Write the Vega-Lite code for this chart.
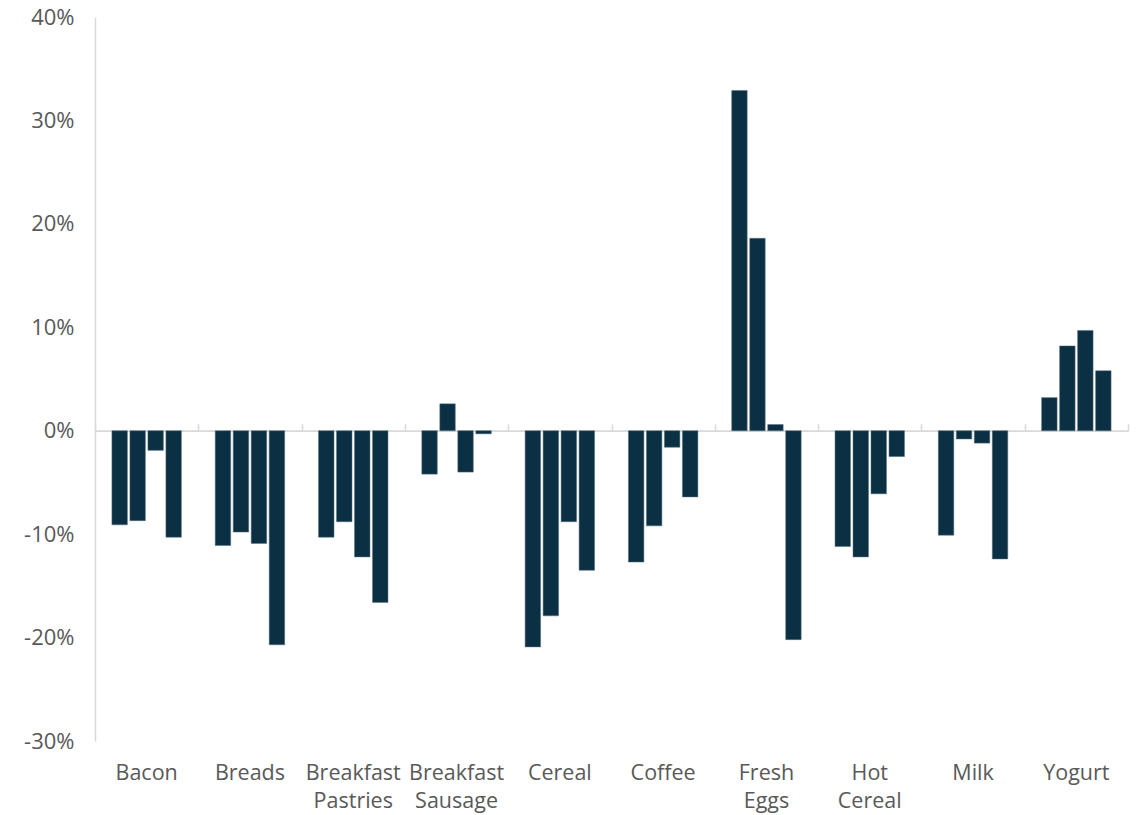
{
  "$schema": "https://vega.github.io/schema/vega-lite/v6.json",
  "autosize": "none",
  "width": 1033,
  "height": 724,
  "padding": {"left": 95, "top": 17, "right": 11, "bottom": 74},
  "background": "#ffffff",
  "config": {
    "view": {"stroke": null},
    "font": "Open Sans"
  },
  "data": {
    "values": [
      {"category": "Bacon", "period": 1, "change": -0.091},
      {"category": "Bacon", "period": 2, "change": -0.087},
      {"category": "Bacon", "period": 3, "change": -0.019},
      {"category": "Bacon", "period": 4, "change": -0.103},
      {"category": "Breads", "period": 1, "change": -0.111},
      {"category": "Breads", "period": 2, "change": -0.098},
      {"category": "Breads", "period": 3, "change": -0.109},
      {"category": "Breads", "period": 4, "change": -0.207},
      {"category": "Breakfast Pastries", "period": 1, "change": -0.103},
      {"category": "Breakfast Pastries", "period": 2, "change": -0.088},
      {"category": "Breakfast Pastries", "period": 3, "change": -0.122},
      {"category": "Breakfast Pastries", "period": 4, "change": -0.166},
      {"category": "Breakfast Sausage", "period": 1, "change": -0.042},
      {"category": "Breakfast Sausage", "period": 2, "change": 0.026},
      {"category": "Breakfast Sausage", "period": 3, "change": -0.040},
      {"category": "Breakfast Sausage", "period": 4, "change": -0.003},
      {"category": "Cereal", "period": 1, "change": -0.209},
      {"category": "Cereal", "period": 2, "change": -0.179},
      {"category": "Cereal", "period": 3, "change": -0.088},
      {"category": "Cereal", "period": 4, "change": -0.135},
      {"category": "Coffee", "period": 1, "change": -0.127},
      {"category": "Coffee", "period": 2, "change": -0.092},
      {"category": "Coffee", "period": 3, "change": -0.016},
      {"category": "Coffee", "period": 4, "change": -0.064},
      {"category": "Fresh Eggs", "period": 1, "change": 0.329},
      {"category": "Fresh Eggs", "period": 2, "change": 0.186},
      {"category": "Fresh Eggs", "period": 3, "change": 0.006},
      {"category": "Fresh Eggs", "period": 4, "change": -0.202},
      {"category": "Hot Cereal", "period": 1, "change": -0.112},
      {"category": "Hot Cereal", "period": 2, "change": -0.122},
      {"category": "Hot Cereal", "period": 3, "change": -0.061},
      {"category": "Hot Cereal", "period": 4, "change": -0.025},
      {"category": "Milk", "period": 1, "change": -0.101},
      {"category": "Milk", "period": 2, "change": -0.008},
      {"category": "Milk", "period": 3, "change": -0.012},
      {"category": "Milk", "period": 4, "change": -0.124},
      {"category": "Yogurt", "period": 1, "change": 0.032},
      {"category": "Yogurt", "period": 2, "change": 0.082},
      {"category": "Yogurt", "period": 3, "change": 0.097},
      {"category": "Yogurt", "period": 4, "change": 0.058}
    ]
  },
  "encoding": {
    "x": {
      "field": "category",
      "type": "nominal",
      "sort": null,
      "scale": {"paddingInner": 0, "paddingOuter": 0}
    },
    "y": {
      "field": "change",
      "type": "quantitative",
      "scale": {"domain": [-0.3, 0.4], "nice": false, "zero": false},
      "axis": {
        "title": null,
        "values": [-0.3, -0.2, -0.1, 0, 0.1, 0.2, 0.3, 0.4],
        "labelExpr": "round(datum.value * 100) + '%'",
        "grid": false,
        "ticks": false,
        "domain": true,
        "domainColor": "#d9d9d9",
        "domainWidth": 1.5,
        "labelColor": "#595959",
        "labelFontSize": 22,
        "labelPadding": 21
      }
    }
  },
  "layer": [
    {
      "mark": {"type": "bar", "color": "#0c3043", "stroke": "#56707d", "strokeWidth": 0.5},
      "encoding": {
        "x": {
          "field": "category",
          "type": "nominal",
          "sort": null,
          "axis": {
            "title": null,
            "orient": "bottom",
            "domain": false,
            "ticks": false,
            "labelAngle": 0,
            "labelExpr": "split(datum.label, ' ')",
            "labelColor": "#595959",
            "labelFontSize": 21.5,
            "labelLineHeight": 28,
            "labelPadding": 21,
            "labelBaseline": "top"
          }
        },
        "xOffset": {
          "field": "period",
          "type": "nominal",
          "scale": {"paddingInner": 0.14, "paddingOuter": 0.94}
        }
      }
    },
    {
      "mark": {"type": "bar", "opacity": 0},
      "encoding": {
        "x": {
          "field": "category",
          "type": "nominal",
          "sort": null,
          "axis": {
            "title": null,
            "orient": "top",
            "offset": -413.7,
            "labels": false,
            "domain": true,
            "domainColor": "#d9d9d9",
            "domainWidth": 1.8,
            "ticks": true,
            "tickBand": "extent",
            "tickColor": "#d9d9d9",
            "tickWidth": 1.5,
            "tickSize": 7,
            "grid": false
          }
        }
      }
    }
  ],
  "resolve": {"axis": {"x": "independent"}}
}
